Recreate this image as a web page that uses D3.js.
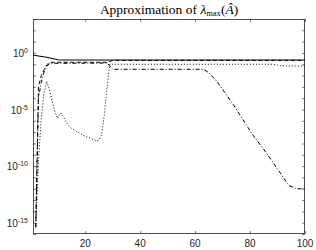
<!DOCTYPE html>
<html><head><meta charset="utf-8">
<script src="https://cdn.jsdelivr.net/npm/d3@7"></script>
<style>body{margin:0;background:#fff}svg{display:block}</style>
</head><body><svg id="c" width="316" height="250"></svg>
<script>
const xTicks = [20, 40, 60, 80, 100];
const yLabelExps = [0, -5, -10, -15];
const yTickExps = d3.range(-16, 4);

const solidX = [1, 3, 6, 8, 10, 12, 100];
const solidY = [0.66, 0.54, 0.41, 0.32, 0.25, 0.24, 0.24];

const dashedX = [2, 3, 4, 5, 6, 7, 28, 30, 100];
const dashedY = [4e-16, 1e-3, 1e-2, 3.2e-2, 8.9e-2, 0.15, 0.15, 0.22, 0.22];

const dashdotX = [2, 3, 4, 5, 6, 7, 28, 30, 63, 65, 68, 74, 81, 86, 91, 94, 97, 100];
const dashdotY = [4e-16, 1e-4, 2.5e-3, 2e-2, 6.3e-2, 0.12, 0.126, 0.036, 0.036, 0.018, 2.9e-3, 2.5e-5, 5.6e-8, 1.4e-9, 2.5e-11, 2e-12, 1e-12, 1e-12];

const dottedX = [2, 3, 4, 5, 6, 7, 8, 9, 10, 11, 12, 13, 14, 15, 16, 17, 18, 19, 20, 21, 22, 23, 24, 25, 26, 27, 28, 29, 30, 88, 92, 100];
const dottedY = [4e-16, 3.2e-10, 1.6e-6, 2.5e-4, 3.2e-3, 5e-4, 5e-5, 6.3e-6, 1.6e-6, 5e-6, 2.5e-6, 7.9e-7, 3.5e-7, 2.2e-7, 1.6e-7, 1.1e-7, 7.9e-8, 5.6e-8, 4.2e-8, 3.4e-8, 2.8e-8, 2.2e-8, 1.7e-8, 2e-8, 6.3e-8, 4e-6, 1.3e-3, 0.11, 0.1, 0.1, 0.071, 0.071];

const L = 33, R = 305, T = 19, B = 234;
const svg = d3.select("#c");
const x = d3.scaleLinear().domain([1, 100]).range([L, R]);
const y = d3.scaleLog().domain([1e-16, 1e3]).range([B, T]);
const axisColor = "#262626";

svg.append("defs").append("clipPath").attr("id", "clip")
  .append("rect").attr("x", L).attr("y", T).attr("width", R - L).attr("height", B - T);

// ticks (inward) using d3 axes
const tl = 3;
svg.append("g").attr("transform", `translate(0,${B})`)
  .call(d3.axisBottom(x).tickValues(xTicks).tickSize(-tl).tickFormat(""))
  .call(g => g.select(".domain").remove());
svg.append("g").attr("transform", `translate(0,${T})`)
  .call(d3.axisTop(x).tickValues(xTicks).tickSize(-tl).tickFormat(""))
  .call(g => g.select(".domain").remove());
svg.append("g").attr("transform", `translate(${L},0)`)
  .call(d3.axisLeft(y).tickValues(yTickExps.map(e => Math.pow(10, e))).tickSize(-tl).tickFormat(""))
  .call(g => g.select(".domain").remove());
svg.append("g").attr("transform", `translate(${R},0)`)
  .call(d3.axisRight(y).tickValues(yTickExps.map(e => Math.pow(10, e))).tickSize(-tl).tickFormat(""))
  .call(g => g.select(".domain").remove());
svg.selectAll(".tick line").attr("stroke", axisColor).attr("stroke-width", 0.6);

// box
svg.append("rect").attr("x", L + 0.5).attr("y", T + 0.5).attr("width", R - L - 1).attr("height", B - T - 1)
  .attr("fill", "none").attr("stroke", axisColor).attr("stroke-width", 0.8);

// x tick labels
svg.selectAll(".xl").data(xTicks).enter().append("text")
  .attr("x", d => x(d)).attr("y", B + 13).attr("text-anchor", "middle")
  .attr("font-family", "Liberation Sans, Arial, sans-serif").attr("font-size", 10)
  .attr("fill", axisColor).text(d => d);

// y tick labels
yLabelExps.forEach(e => {
  const t = svg.append("text").attr("x", L - 5).attr("y", y(Math.pow(10, e)) + 4)
    .attr("text-anchor", "end").attr("font-family", "Liberation Sans, Arial, sans-serif")
    .attr("font-size", 10).attr("fill", axisColor);
  t.append("tspan").text("10");
  t.append("tspan").attr("dy", -4).attr("font-size", 7).text(e === 0 ? "0" : "-" + Math.abs(e));
});

// title
const title = svg.append("text").attr("x", (L + R) / 2).attr("y", 13.5).attr("text-anchor", "middle")
  .attr("font-family", "Liberation Serif, Times New Roman, serif").attr("font-size", 13.5).attr("fill", "#000");
title.append("tspan").text("Approximation of ");
title.append("tspan").attr("font-style", "italic").text("λ");
title.append("tspan").attr("font-size", 8.5).attr("dy", 2.5).text("max");
title.append("tspan").attr("dy", -2.5).text("(");
title.append("tspan").attr("font-style", "italic").text("Â");
title.append("tspan").text(")");

// lines
const plot = svg.append("g").attr("clip-path", "url(#clip)");
const line = d3.line().x(d => x(d[0])).y(d => y(d[1]));
const series = [
  {xs: dottedX, ys: dottedY, dash: "1,2", w: 1},
  {xs: dashdotX, ys: dashdotY, dash: "4,2,1,2", w: 1},
  {xs: dashedX, ys: dashedY, dash: "4,2.5", w: 1},
  {xs: solidX, ys: solidY, dash: null, w: 1.1},
];
series.forEach(s => {
  plot.append("path").datum(s.xs.map((v, i) => [v, s.ys[i]]))
    .attr("d", line).attr("fill", "none").attr("stroke", "#000")
    .attr("stroke-width", s.w).attr("stroke-dasharray", s.dash);
});
</script>
</body></html>
